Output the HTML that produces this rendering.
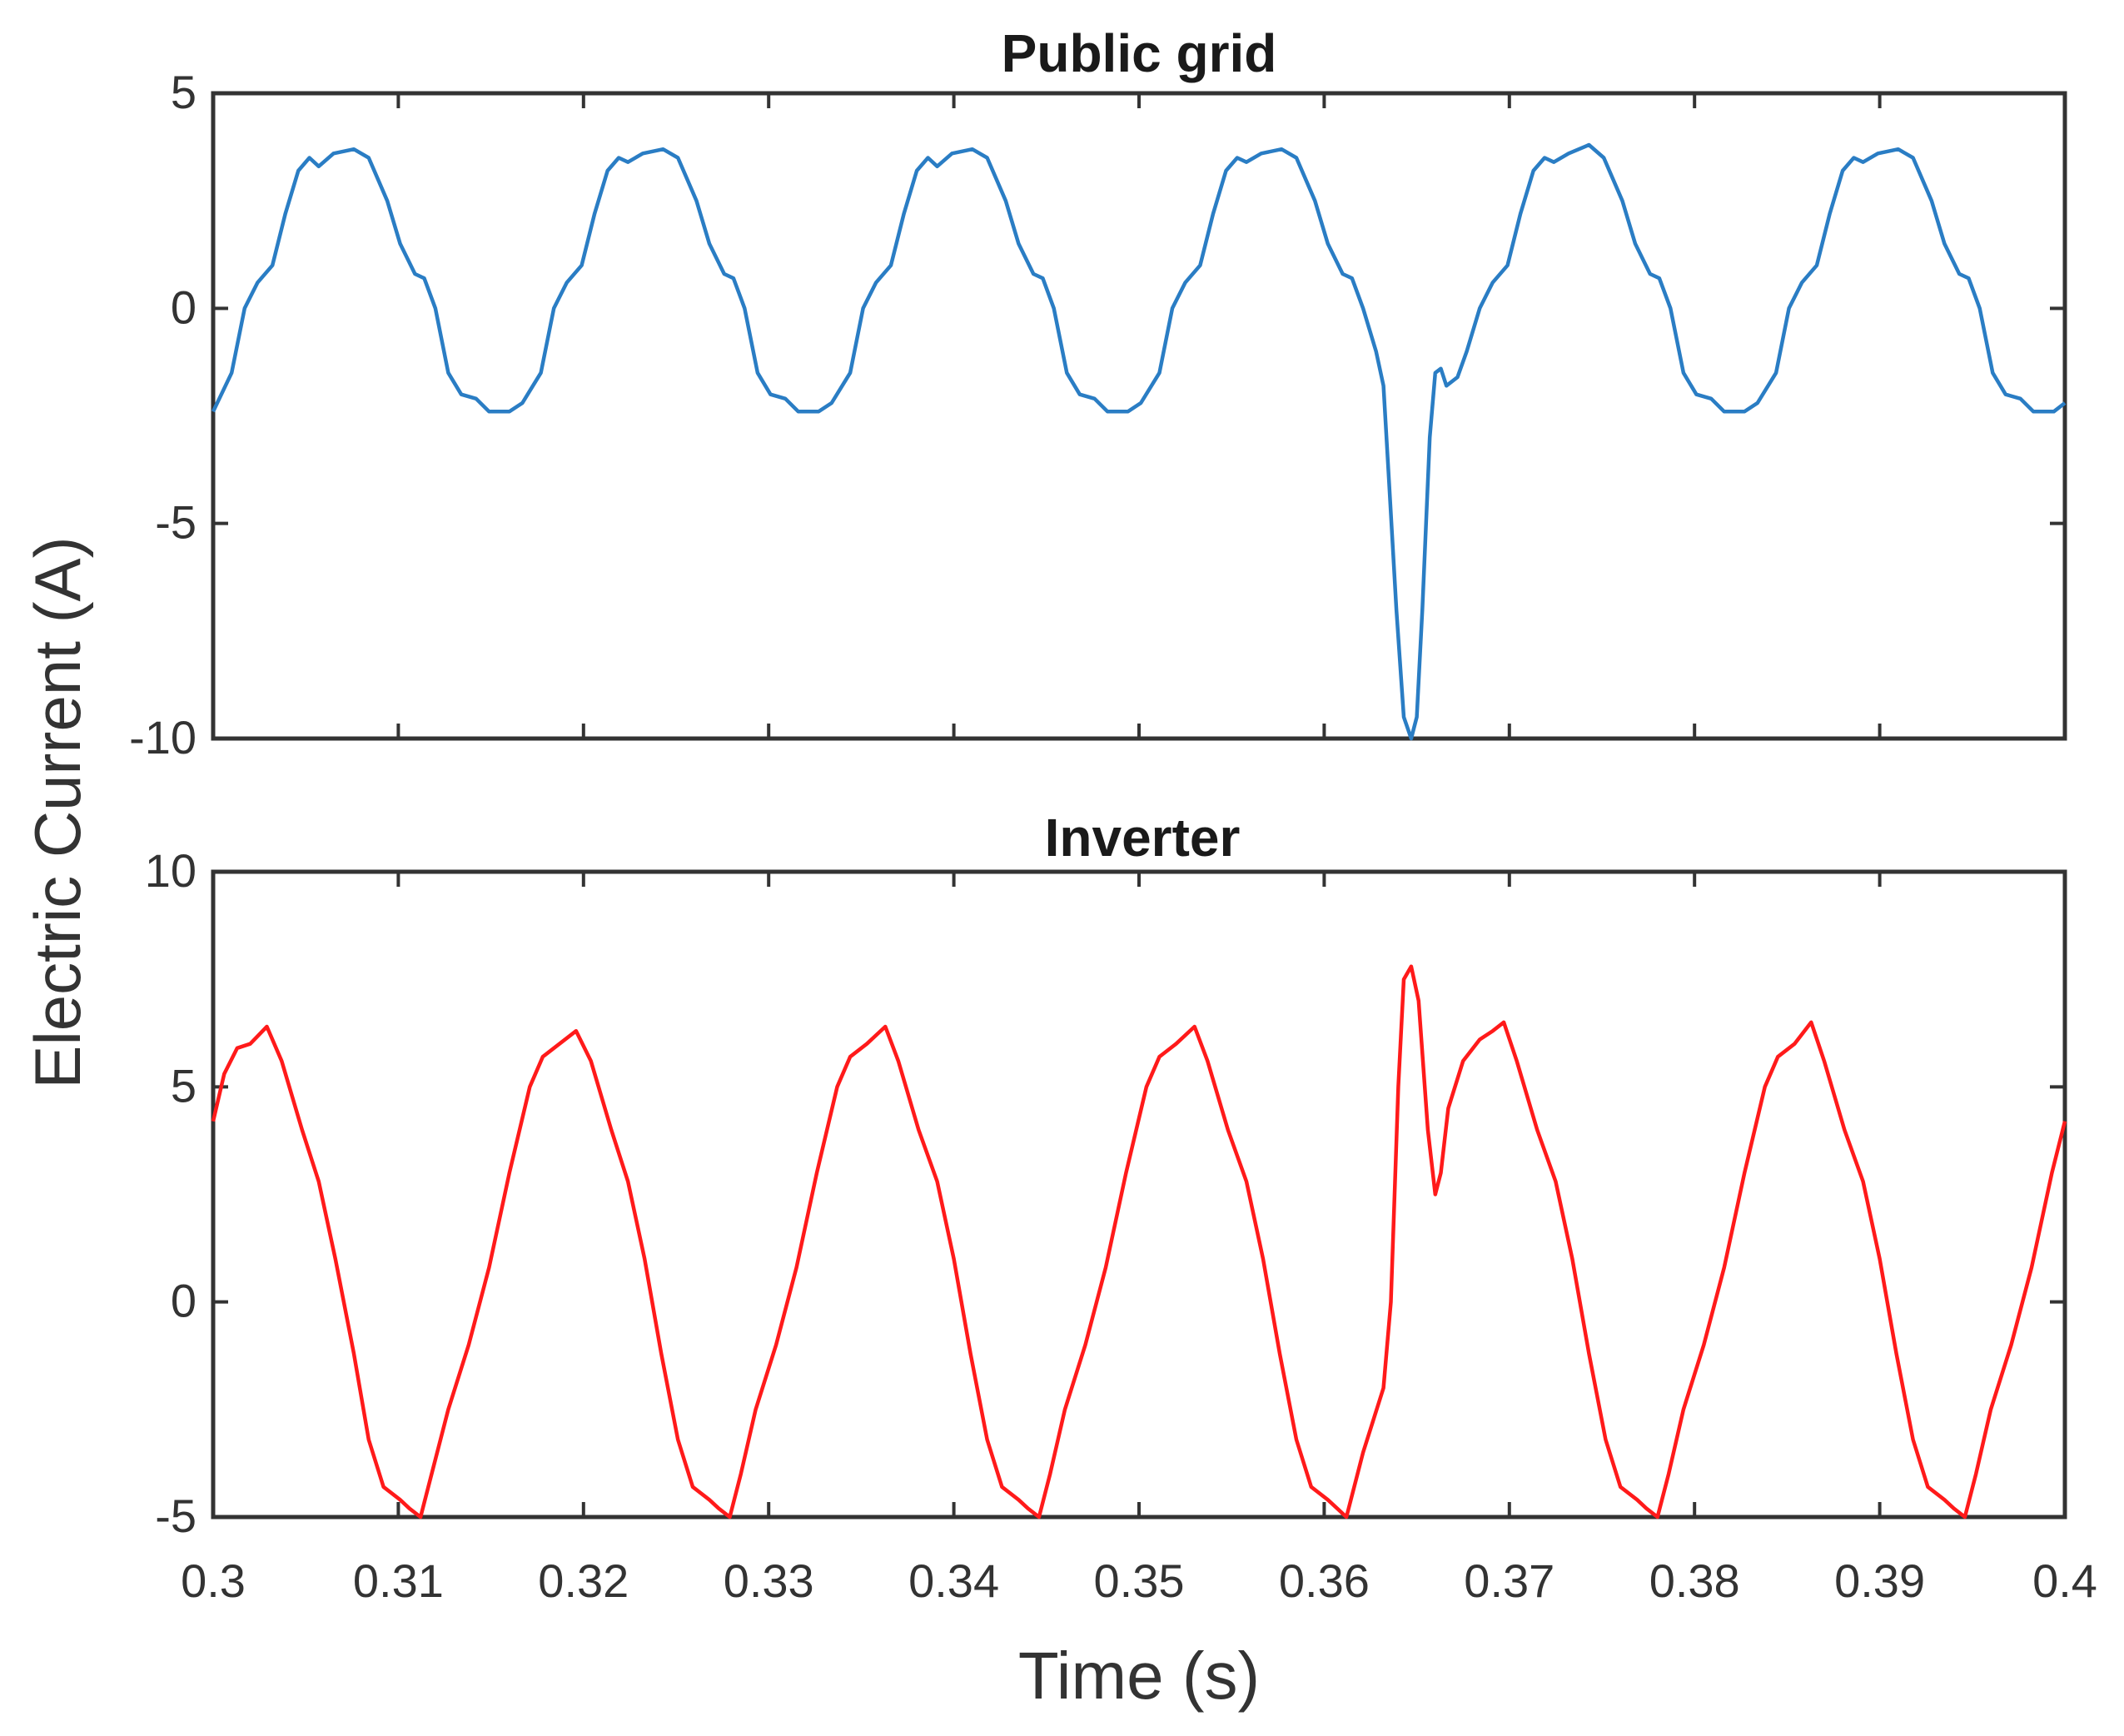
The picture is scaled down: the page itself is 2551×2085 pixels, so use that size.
<!DOCTYPE html>
<html><head><meta charset="utf-8"><style>
html,body{margin:0;padding:0;background:#fff;}
svg{display:block;font-family:"Liberation Sans",Arial,sans-serif;}
</style></head>
<body>
<svg id="chart" width="2551" height="2085" viewBox="0 0 2551 2085" xmlns="http://www.w3.org/2000/svg">
<rect width="2551" height="2085" fill="#fff"/>
<text x="1368" y="86" font-size="64" font-weight="bold" text-anchor="middle" fill="#1a1a1a">Public grid</text>
<text x="1372" y="1028" font-size="64" font-weight="bold" text-anchor="middle" fill="#1a1a1a">Inverter</text>
<text transform="translate(96,976) rotate(-90)" font-size="78" text-anchor="middle" fill="#333">Electric Current (A)</text>
<text x="1368" y="2040" font-size="80" text-anchor="middle" fill="#333">Time (s)</text>
<g id="top"></g>
<g id="bot"></g>
</svg>
<script>
const xTicks = [0.3,0.31,0.32,0.33,0.34,0.35,0.36,0.37,0.38,0.39,0.4];
const xTickLabels = ["0.3","0.31","0.32","0.33","0.34","0.35","0.36","0.37","0.38","0.39","0.4"];
const topYTicks = [5,0,-5,-10];
const botYTicks = [10,5,0,-5];
// Public grid current: time (ms), current (A)
const gridT = [300.0,301.0,301.7,302.4,303.2,303.9,304.6,305.2,305.7,306.5,307.6,308.4,309.4,310.1,310.9,311.4,312.0,312.7,313.4,314.2,314.9,316.0,316.7,317.7,
318.4,319.1,319.9,320.6,321.3,321.9,322.4,323.2,324.3,325.1,326.1,326.8,327.6,328.1,328.7,329.4,330.1,330.9,331.6,332.7,333.4,334.4,
335.1,335.8,336.6,337.3,338.0,338.6,339.1,339.9,341.0,341.8,342.8,343.5,344.3,344.8,345.4,346.1,346.8,347.6,348.3,349.4,350.1,351.1,
351.8,352.5,353.3,354.0,354.7,355.3,355.8,356.6,357.7,358.5,359.5,360.2,361.0,361.5,362.1,362.8,363.2,363.5,363.9,364.3,364.7,365.0,365.3,365.7,366.0,366.3,366.6,367.2,367.7,
368.4,369.1,369.9,370.6,371.3,371.9,372.4,373.2,374.3,375.1,376.1,376.8,377.6,378.1,378.7,379.4,380.1,380.9,381.6,382.7,383.4,384.4,
385.1,385.8,386.6,387.3,388.0,388.6,389.1,389.9,391.0,391.8,392.8,393.5,394.3,394.8,395.4,396.1,396.8,397.6,398.3,399.4,400.0];
const gridI = [-2.4,-1.5,0,0.6,1.0,2.2,3.2,3.5,3.3,3.6,3.7,3.5,2.5,1.5,0.8,0.7,0,-1.5,-2.0,-2.1,-2.4,-2.4,-2.2,-1.5,
0,0.6,1.0,2.2,3.2,3.5,3.4,3.6,3.7,3.5,2.5,1.5,0.8,0.7,0,-1.5,-2.0,-2.1,-2.4,-2.4,-2.2,-1.5,
0,0.6,1.0,2.2,3.2,3.5,3.3,3.6,3.7,3.5,2.5,1.5,0.8,0.7,0,-1.5,-2.0,-2.1,-2.4,-2.4,-2.2,-1.5,
0,0.6,1.0,2.2,3.2,3.5,3.4,3.6,3.7,3.5,2.5,1.5,0.8,0.7,0,-1.0,-1.8,-4,-7,-9.5,-10,-9.5,-7,-3,-1.5,-1.4,-1.8,-1.6,-1.0,
0,0.6,1.0,2.2,3.2,3.5,3.4,3.6,3.8,3.5,2.5,1.5,0.8,0.7,0,-1.5,-2.0,-2.1,-2.4,-2.4,-2.2,-1.5,
0,0.6,1.0,2.2,3.2,3.5,3.4,3.6,3.7,3.5,2.5,1.5,0.8,0.7,0,-1.5,-2.0,-2.1,-2.4,-2.4,-2.2];
// Inverter current: time (ms), current (A)
const invT = [300.0,300.6,301.3,302.0,302.9,303.7,304.8,305.7,306.6,307.6,308.4,309.2,310.1,310.6,311.2,311.8,312.7,313.8,314.9,316.0,317.1,317.8,318.7,319.6,
320.4,321.5,322.4,323.3,324.2,325.1,325.9,326.8,327.3,327.9,328.5,329.3,330.4,331.5,332.6,333.7,334.4,335.3,336.3,
337.0,338.1,339.1,340.0,340.9,341.8,342.6,343.5,344.0,344.6,345.2,346.0,347.1,348.2,349.3,350.4,351.1,352.0,353.0,
353.7,354.8,355.8,356.7,357.6,358.5,359.3,360.2,360.7,361.2,362.1,363.2,363.6,364.0,364.3,364.7,365.1,365.6,366.0,366.3,366.7,367.5,368.4,369.1,369.7,
370.4,371.5,372.5,373.4,374.3,375.2,376.0,376.9,377.4,378.0,378.6,379.4,380.5,381.6,382.7,383.8,384.5,385.4,386.3,
387.0,388.1,389.1,390.0,390.9,391.8,392.6,393.5,394.0,394.6,395.2,396.0,397.1,398.2,399.3,400.0];
const invI = [4.2,5.3,5.9,6.0,6.4,5.6,4.0,2.8,1.0,-1.2,-3.2,-4.3,-4.6,-4.8,-5.0,-4.0,-2.5,-1.0,0.8,3.0,5.0,5.7,6.0,6.3,
5.6,4.0,2.8,1.0,-1.2,-3.2,-4.3,-4.6,-4.8,-5.0,-4.0,-2.5,-1.0,0.8,3.0,5.0,5.7,6.0,6.4,
5.6,4.0,2.8,1.0,-1.2,-3.2,-4.3,-4.6,-4.8,-5.0,-4.0,-2.5,-1.0,0.8,3.0,5.0,5.7,6.0,6.4,
5.6,4.0,2.8,1.0,-1.2,-3.2,-4.3,-4.6,-4.8,-5.0,-3.5,-2.0,0,5,7.5,7.8,7.0,4,2.5,3,4.5,5.6,6.1,6.3,6.5,
5.6,4.0,2.8,1.0,-1.2,-3.2,-4.3,-4.6,-4.8,-5.0,-4.0,-2.5,-1.0,0.8,3.0,5.0,5.7,6.0,6.5,
5.6,4.0,2.8,1.0,-1.2,-3.2,-4.3,-4.6,-4.8,-5.0,-4.0,-2.5,-1.0,0.8,3.0,4.2];

const NS = "http://www.w3.org/2000/svg";
const X0 = 256, X1 = 2480;
const xScale = t => X0 + (t - 0.3) / 0.1 * (X1 - X0);

function mk(tag, attrs, parent){
  const e = document.createElementNS(NS, tag);
  for (const k in attrs) e.setAttribute(k, attrs[k]);
  parent.appendChild(e);
  return e;
}

function panel(g, yTop, yBot, vMax, vMin, yTicks, showXLabels, T, V, color, nm){
  const yScale = v => yTop + (vMax - v) / (vMax - vMin) * (yBot - yTop);
  const ax = mk('rect', {x:X0, y:yTop, width:X1-X0, height:yBot-yTop, fill:'none', stroke:'#333', 'stroke-width':5}, g);
  
  
  xTicks.forEach((t, i) => {
    const x = xScale(t);
    const a = mk('line', {x1:x, x2:x, y1:yBot, y2:yBot-18, stroke:'#333', 'stroke-width':4}, g);
    
    
    const b = mk('line', {x1:x, x2:x, y1:yTop, y2:yTop+18, stroke:'#333', 'stroke-width':4}, g);
    
    
    if (showXLabels){
      const tx = mk('text', {x:x, y:yBot+96, 'font-size':56, 'text-anchor':'middle', fill:'#333'}, g);
      tx.textContent = xTickLabels[i];
      
      
    }
  });
  yTicks.forEach(v => {
    const y = yScale(v);
    const a = mk('line', {x1:X0, x2:X0+18, y1:y, y2:y, stroke:'#333', 'stroke-width':4}, g);
    
    
    const b = mk('line', {x1:X1, x2:X1-18, y1:y, y2:y, stroke:'#333', 'stroke-width':4}, g);
    
    
    const tx = mk('text', {x:236, y:y+18, 'font-size':56, 'text-anchor':'end', fill:'#333'}, g);
    tx.textContent = String(v);
    
    
  });
  const d = T.map((t, i) => (i ? 'L' : 'M') + xScale(t / 1000).toFixed(1) + ',' + yScale(V[i]).toFixed(1)).join(' ');
  const p = mk('path', {d:d, fill:'none', stroke:color, 'stroke-width':4.5, 'stroke-linejoin':'round'}, g);
  
  
}

panel(document.getElementById('top'), 112, 887, 5, -10, topYTicks, false, gridT, gridI, '#2a7dc4', 'public-grid');
panel(document.getElementById('bot'), 1047, 1822, 10, -5, botYTicks, true, invT, invI, '#ff1a1a', 'inverter');
</script>
</body></html>
